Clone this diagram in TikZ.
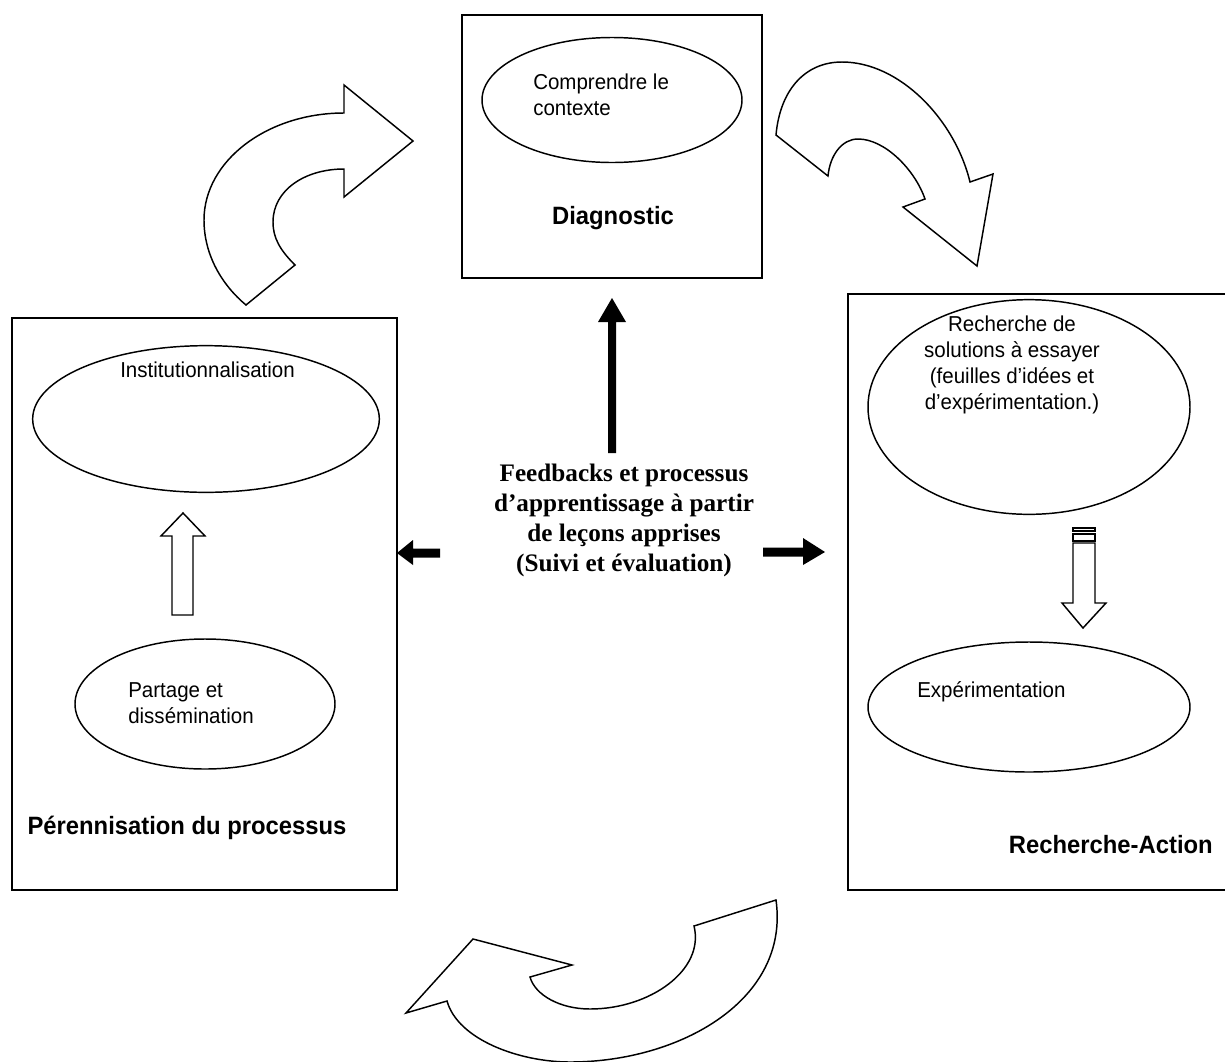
\documentclass[tikz,border=0pt]{standalone}
\usepackage{fontspec}
\setmainfont{Liberation Sans}[FakeStretch=0.95]
\newfontfamily\timesf{Liberation Serif}
\usetikzlibrary{shapes.geometric}
\begin{document}
\begin{tikzpicture}[x=0.75pt,y=-0.75pt,
  box/.style={draw, line width=1.3pt, inner sep=0pt},
  oval/.style={draw, ellipse, line width=1.1pt, inner sep=0pt},
  small/.style={font=\fontsize{16.2}{19.5}\selectfont, inner sep=0pt, align=left},
  title/.style={font=\fontsize{18.8}{22}\selectfont\bfseries, inner sep=0pt},
  curved/.style={draw, line width=1.1pt, fill=white, line join=miter},
  hollow/.style={draw, line width=1.1pt, fill=white},
  solid/.style={fill=black, draw=none}]
\useasboundingbox (0,0) rectangle (1225,1061);

% boxes
\node[box, minimum width=225pt, minimum height=197.25pt] (diag) at (612,146.5) {};
\node[box, minimum width=288.75pt, minimum height=429pt] (left) at (204.5,604) {};
\node[box, minimum width=294pt, minimum height=447pt] (right) at (1044,592) {};

% ellipses
\node[oval, minimum width=195pt, minimum height=93.75pt] (ctx) at (612,100) {};
\node[oval, minimum width=260pt, minimum height=110pt] (inst) at (206,419) {};
\node[oval, minimum width=195pt, minimum height=97.5pt] (part) at (205,704) {};
\node[oval, minimum width=241.5pt, minimum height=161pt] (rech) at (1029,407) {};
\node[oval, minimum width=241.5pt, minimum height=97.5pt] (exp) at (1029,707) {};

% texts
\node[small, anchor=west] (ctxt) at (533,95) {Comprendre le\\contexte};
\node[title] (diagt) at (613,218) {Diagnostic};
\node[small, anchor=west] (instt) at (120,370) {Institutionnalisation};
\node[small, anchor=west] (partt) at (128,703) {Partage et\\dissémination};
\node[title] (pert) at (187,828) {Pérennisation du processus};
\node[small, align=center] (recht) at (1012,365) {Recherche de\\solutions à essayer\\(feuilles d’idées et\\d’expérimentation.)};
\node[small, anchor=west] (expt) at (917,692) {Expérimentation};
\node[title, anchor=east] (ract) at (1213,845) {Recherche-Action};
\node[font=\timesf\fontsize{18.9}{22.5}\selectfont\bfseries, align=center, inner sep=0pt] (fb) at (624,520)
  {Feedbacks et processus\\d’apprentissage à partir\\de leçons apprises\\(Suivi et évaluation)};

% solid arrows from the centre
\coordinate (upS) at (612,453);
\coordinate (upT) at (612,298);
\fill[solid] (608,453) -- (608,322) -- (598,322) -- (upT) -- (626,322) -- (616,322) -- (616,453) -- cycle;
\coordinate (lS) at (440,553);
\coordinate (lT) at (397,553);
\fill[solid] (lS) ++(0,-4.5) -- (413,548.5) -- (413,540) -- (lT) -- (413,565) -- (413,557.5) -- (440,557.5) -- cycle;
\coordinate (rS) at (763,552);
\coordinate (rT) at (825,552);
\fill[solid] (763,547.5) -- (803,547.5) -- (803,538) -- (rT) -- (803,565) -- (803,556.5) -- (763,556.5) -- cycle;

% hollow up arrow (left box)
\draw[hollow] (172,615) -- (172,536) -- (161,536) -- (183,513) -- (205,536) -- (193,536) -- (193,615) -- cycle;

% hollow down arrow (right box)
\draw[hollow] (1073,528) rectangle (1095,531);
\draw[hollow] (1073,534) rectangle (1095,541);
\draw[hollow] (1073,543) -- (1095,543) -- (1095,603) -- (1106,603) -- (1083,628) -- (1062,603) -- (1073,603) -- cycle;

% curved arrow top-left
\draw[curved] (246,305) -- (295,265)
  .. controls (280,250) and (273,238) .. (273,222)
  .. controls (273,190) and (305,169) .. (344,169)
  -- (344,197) -- (413,141) -- (344,85) -- (344,113)
  .. controls (267,113) and (204,161) .. (204,220)
  .. controls (204,255) and (222,285) .. (246,305) -- cycle;

% curved arrow top-right
\draw[curved] (776,135) -- (828,176)
  .. controls (830,155) and (842,139) .. (858,139)
  .. controls (885,139) and (915,170) .. (925,199)
  -- (903,207) -- (977,266) -- (993,174) -- (970,182)
  .. controls (955,120) and (900,62) .. (842,62)
  .. controls (805,62) and (780,90) .. (776,135) -- cycle;

% curved arrow bottom
\draw[curved] (776,900) -- (694,926)
  .. controls (705,970) and (650,1009) .. (590,1009)
  .. controls (560,1009) and (535,995) .. (530,977)
  -- (572,965) -- (473,939) -- (406,1013) -- (447,1001)
  .. controls (458,1040) and (520,1062) .. (570,1062)
  .. controls (680,1062) and (790,1000) .. (776,900) -- cycle;
\end{tikzpicture}
\end{document}
